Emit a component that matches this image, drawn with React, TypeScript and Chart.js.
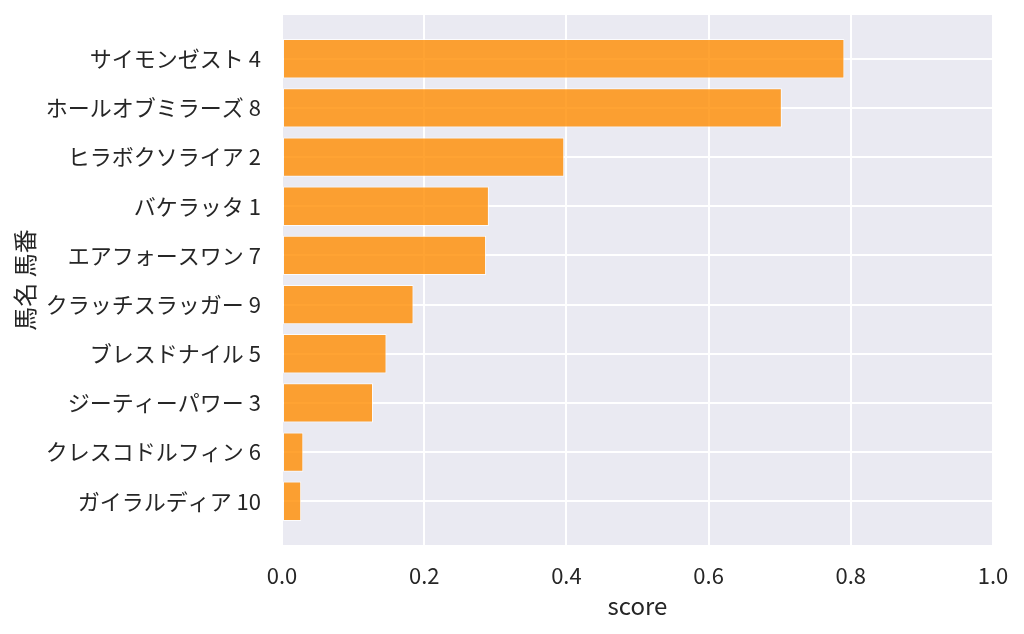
import React, { useEffect, useRef } from "react";
import { Chart, registerables } from "chart.js";

Chart.register(...registerables);

const horseNames: string[] = [
  "サイモンゼスト 4",
  "ホールオブミラーズ 8",
  "ヒラボクソライア 2",
  "バケラッタ 1",
  "エアフォースワン 7",
  "クラッチスラッガー 9",
  "ブレスドナイル 5",
  "ジーティーパワー 3",
  "クレスコドルフィン 6",
  "ガイラルディア 10",
];

const scores: number[] = [0.791, 0.703, 0.397, 0.291, 0.287, 0.185, 0.147, 0.128, 0.03, 0.027];

const xTicks: number[] = [0, 0.2, 0.4, 0.6, 0.8, 1.0];

const FONT = '"Noto Sans CJK JP", "Noto Sans", sans-serif';
const TEXT = "#262626";

const bgPlugin = {
  id: "plotBg",
  beforeDraw(chart: any) {
    const { ctx, chartArea } = chart;
    if (!chartArea) return;
    ctx.save();
    ctx.fillStyle = "#EAEAF2";
    ctx.fillRect(chartArea.left, chartArea.top, chartArea.right - chartArea.left, chartArea.bottom - chartArea.top);
    ctx.restore();
  },
};

export default function App() {
  const ref = useRef<HTMLCanvasElement | null>(null);

  useEffect(() => {
    if (!ref.current) return;
    const data = scores.map((v, i) => ({ x: v, y: i }));
    const chart = new Chart(ref.current, {
      type: "bar",
      data: {
        datasets: [
          {
            data: data as any,
            backgroundColor: "rgba(255,140,0,0.8)",
            borderColor: "rgba(255,255,255,0.8)",
            borderWidth: 1,
            borderSkipped: false,
            barPercentage: 0.8,
            categoryPercentage: 1.0,
          },
        ],
      },
      plugins: [bgPlugin],
      options: {
        indexAxis: "y",
        animation: false,
        responsive: false,
        maintainAspectRatio: false,
        layout: { padding: { left: 0, top: 15, right: 31, bottom: 0 } },
        plugins: { legend: { display: false }, tooltip: { enabled: false } },
        scales: {
          x: {
            type: "linear",
            min: 0,
            max: 1,
            afterBuildTicks: (axis: any) => {
              axis.ticks = xTicks.map((v) => ({ value: v }));
            },
            afterFit: (axis: any) => {
              axis.height = 89;
              axis.paddingLeft = 0;
              axis.paddingRight = 0;
            },
            ticks: {
              callback: (v: any) => Number(v).toFixed(1),
              font: { family: FONT, size: 22 },
              color: TEXT,
              padding: 17,
              maxRotation: 0,
            },
            grid: { color: "#FFFFFF", lineWidth: 2, drawTicks: false },
            border: { display: false },
            title: {
              display: true,
              text: "score",
              font: { family: FONT, size: 24 },
              color: TEXT,
              padding: { top: 0, bottom: 14 },
            },
          },
          y: {
            type: "linear",
            min: -0.89,
            max: horseNames.length - 1 + 0.89,
            reverse: true,
            offset: false,
            afterBuildTicks: (axis: any) => {
              axis.ticks = horseNames.map((_, i) => ({ value: i }));
            },
            afterFit: (axis: any) => {
              axis.width = 282;
              axis.paddingTop = 0;
              axis.paddingBottom = 0;
            },
            ticks: {
              callback: (v: any) => horseNames[Number(v)] ?? "",
              font: { family: FONT, size: 22 },
              color: TEXT,
              padding: 21,
              autoSkip: false,
            },
            grid: { color: "#FFFFFF", lineWidth: 2, drawTicks: false, offset: false },
            border: { display: false },
            title: {
              display: true,
              text: "馬名 馬番",
              font: { family: FONT, size: 24 },
              color: TEXT,
              padding: { top: 10, bottom: 0 },
            },
          },
        },
      },
    });
    return () => chart.destroy();
  }, []);

  return (
    <div style={{ position: "fixed", left: 0, top: 0, width: 1024, height: 634, background: "#fff" }}>
      <canvas ref={ref} width={1024} height={634} style={{ width: 1024, height: 634, display: "block" }} />
    </div>
  );
}
